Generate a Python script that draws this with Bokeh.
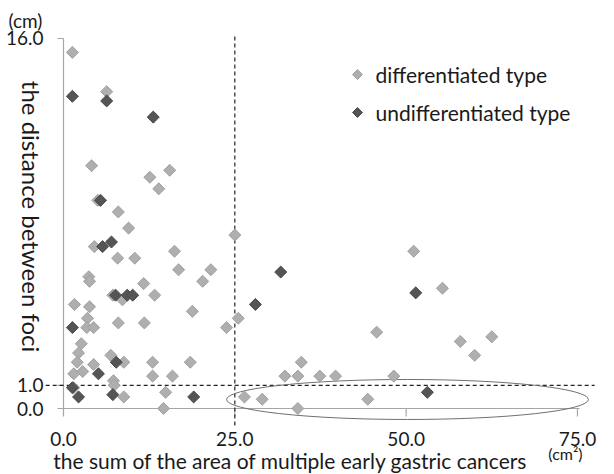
from math import pi
from bokeh.plotting import figure
from bokeh.models import Label
from bokeh.embed import file_html
from bokeh.resources import INLINE

# ---- data ----
diff_area = [1.3, 6.3, 4.1, 12.6, 15.5, 13.9, 5.0, 8.0, 9.5, 25.0, 4.5, 7.9, 10.4,
             16.2, 3.7, 3.8, 16.8, 20.3, 21.5, 11.7, 13.3, 7.2, 8.6, 18.8, 25.5,
             1.6, 3.8, 3.5, 3.4, 4.4, 8.0, 11.8, 23.8, 2.6, 2.2, 2.0, 2.8, 1.5,
             4.4, 6.9, 8.8, 13.0, 13.0, 15.9, 18.5, 7.3, 7.4, 1.5, 8.8, 14.9,
             14.6, 26.4, 29.0, 51.1, 55.3, 45.7, 57.9, 62.5, 60.0, 34.7, 32.3,
             34.2, 37.4, 39.7, 48.2, 44.4, 34.2]
diff_dist = [15.4, 13.7, 10.5, 10.0, 10.3, 9.5, 9.0, 8.5, 7.8, 7.5, 7.0, 6.5, 6.5,
             6.8, 5.7, 5.5, 6.0, 5.5, 6.0, 5.4, 4.9, 4.9, 4.7, 4.2, 3.9,
             4.5, 4.4, 3.9, 3.5, 3.5, 3.7, 3.7, 3.5, 2.8, 2.4, 2.0, 1.6, 1.5,
             1.9, 2.3, 2.0, 2.0, 1.4, 1.4, 2.0, 1.2, 1.0, 0.9, 0.5, 0.7,
             0.0, 0.5, 0.4, 6.8, 5.2, 3.3, 2.9, 3.1, 2.3, 2.0, 1.4,
             1.4, 1.4, 1.4, 1.4, 0.4, 0.0]
undiff_area = [1.3, 6.3, 13.1, 5.4, 5.7, 7.0, 7.6, 9.3, 10.1, 1.3, 7.7, 5.1, 1.3,
               2.2, 7.2, 19.0, 28.0, 31.7, 51.4, 53.1]
undiff_dist = [13.5, 13.3, 12.6, 9.0, 7.0, 7.2, 4.9, 4.9, 4.9, 3.5, 2.0, 1.5, 0.9,
               0.5, 0.6, 0.5, 4.5, 5.9, 5.0, 0.7]

series_names = ["differentiated type", "undifferentiated type"]
x_ticks = [0, 25, 50, 75]
x_tick_labels = ["0.0", "25.0", "50.0", "75.0"]
y_ticks = [0, 1, 16]
y_tick_labels = ["0.0", "1.0", "16.0"]
area_cut = 25.0
dist_cut = 1.0
x_max = 75
y_max = 16

# ---- styles / layout ----
FONT = "Lato"
TXT = "#1a1a1a"
AXC = "#a6a6a6"
LIGHT_FILL, LIGHT_LINE = "#afafaf", "#a0a0a0"
DARK_FILL, DARK_LINE = "#555555", "#4a4a4a"
MSIZE = 8.5
PX_X = 6.853      # pixels per x unit
PX_Y = 23.125     # pixels per y unit

p = figure(width=614, height=474, x_range=(-9.193, 80.404), y_range=(-2.854, 17.643),
           x_axis_type=None, y_axis_type=None, min_border=0,
           output_backend="svg", toolbar_location=None)
p.grid.visible = False
p.outline_line_color = None
p.background_fill_color = "white"
p.border_fill_color = "white"

# axis lines and ticks
p.segment(x0=[0, -0.8], y0=[0, 0], x1=[0, x_max + 0.3], y1=[y_max, 0],
          line_color=AXC, line_width=1.2)
p.segment(x0=x_ticks, y0=[0] * len(x_ticks), x1=x_ticks,
          y1=[-8 / PX_Y] * len(x_ticks), line_color=AXC, line_width=1.2)
p.segment(x0=[0] * len(y_ticks), y0=y_ticks, x1=[-6 / PX_X] * len(y_ticks),
          y1=y_ticks, line_color=AXC, line_width=1.2)

# tick labels
p.text(x=x_ticks, y=[0] * len(x_ticks), text=x_tick_labels, y_offset=30,
       text_align="center", text_baseline="middle", text_font={"value": FONT},
       text_font_size={"value": "19px"}, text_color=TXT)
p.text(x=[0] * len(y_ticks), y=y_ticks, text=y_tick_labels, x_offset=-20,
       text_align="right", text_baseline="middle", text_font={"value": FONT},
       text_font_size={"value": "19px"}, text_color=TXT)

# cut-off reference lines
p.segment(x0=[area_cut], y0=[-17 / PX_Y], x1=[area_cut], y1=[y_max + 0.13],
          line_color="#222222", line_width=1.2, line_dash="4 3")
p.segment(x0=[-2.6], y0=[dist_cut], x1=[77.5], y1=[dist_cut],
          line_color="#222222", line_width=1.2, line_dash="4 3")

# highlighted region ellipse
ELL_X, ELL_Y, ELL_W, ELL_H = 50.2, 0.39, 52.8, 1.73
p.ellipse(x=[ELL_X], y=[ELL_Y], width=ELL_W, height=ELL_H,
          fill_color=None, line_color="#707070", line_width=1)

p.scatter(diff_area, diff_dist, marker="square", angle=pi / 4, size=MSIZE,
          fill_color=LIGHT_FILL, line_color=LIGHT_LINE, line_width=1)
p.scatter(undiff_area, undiff_dist, marker="square", angle=pi / 4, size=MSIZE,
          fill_color=DARK_FILL, line_color=DARK_LINE, line_width=1)

# legend (drawn by hand so the keys keep the diamond shape)
LEG_X, LEG_Y0, LEG_DY = 42.9, 14.44, 1.64
leg_y = [LEG_Y0, LEG_Y0 - LEG_DY]
p.scatter(x=[LEG_X, LEG_X], y=leg_y, marker="square", angle=pi / 4, size=7,
          fill_color=[LIGHT_FILL, DARK_FILL], line_color=[LIGHT_LINE, DARK_LINE])
p.text(x=[LEG_X + 18 / PX_X] * 2, y=leg_y, text=series_names,
       text_align="left", text_baseline="middle", text_font={"value": FONT},
       text_font_size={"value": "21px"}, text_color=TXT)

# titles
p.add_layout(Label(x=-4.67, y=8.3, text="the distance between foci", angle=-pi / 2,
                   text_align="center", text_baseline="middle", text_font=FONT,
                   text_font_size="24px", text_color=TXT))
p.add_layout(Label(x=33.12, y=-2.25,
                   text="the sum of the area of multiple early gastric cancers",
                   text_align="center", text_baseline="middle", text_font=FONT,
                   text_font_size="21px", text_color=TXT))
p.add_layout(Label(x=73.25, y=-1.95, text="(cm²)", text_align="center",
                   text_baseline="middle", text_font=FONT, text_font_size="16px",
                   text_color=TXT))
p.add_layout(Label(x=-5.55, y=16.78, text="(cm)", text_align="center",
                   text_baseline="middle", text_font=FONT, text_font_size="19px",
                   text_color=TXT))

open("out.html", "w").write(file_html(p, INLINE))
